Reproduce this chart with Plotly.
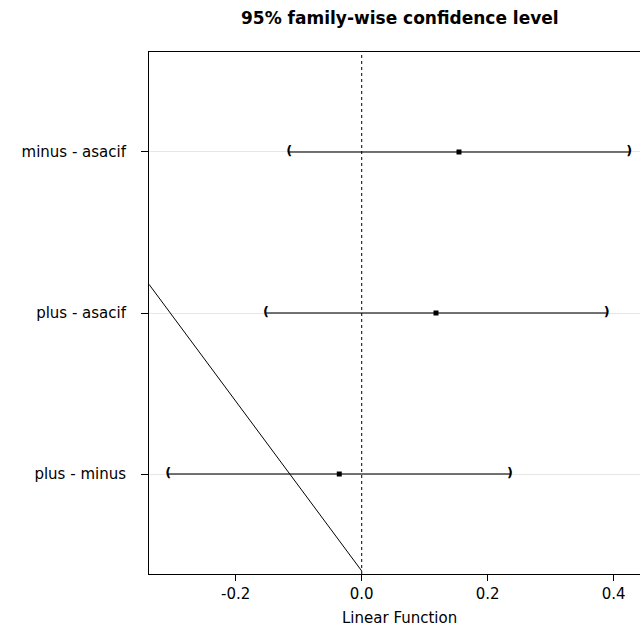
import plotly.graph_objects as go

# Data
contrasts = ["plus - minus", "plus - asacif", "minus - asacif"]
positions = [1, 2, 3]
estimates = [-0.0356, 0.1179, 0.1544]
lower = [-0.3071, -0.1518, -0.1149]
upper = [0.2354, 0.3889, 0.4248]
diag_x = [-0.3376, 0.0]
diag_y = [2.178, 0.398]
x_ticks = [-0.2, 0.0, 0.2, 0.4]
x_ticklabels = ["-0.2", "0.0", "0.2", "0.4"]

FONT = "DejaVu Sans"

fig = go.Figure()

# CI segments
for lo, hi, p in zip(lower, upper, positions):
    fig.add_trace(go.Scatter(x=[lo, hi], y=[p, p], mode="lines",
                             line=dict(color="#444444", width=1.6),
                             showlegend=False, hoverinfo="skip"))

# brackets
fig.add_trace(go.Scatter(x=lower, y=positions, mode="text", text=["<b>(</b>"] * 3,
                         textfont=dict(family=FONT, size=13, color="black"),
                         textposition="middle center", showlegend=False, hoverinfo="skip"))
fig.add_trace(go.Scatter(x=upper, y=positions, mode="text", text=["<b>)</b>"] * 3,
                         textfont=dict(family=FONT, size=13, color="black"),
                         textposition="middle center", showlegend=False, hoverinfo="skip"))

# estimates
fig.add_trace(go.Scatter(x=estimates, y=positions, mode="markers",
                         marker=dict(symbol="square", size=5, color="black"),
                         showlegend=False, hoverinfo="skip"))

# diagonal line
fig.add_trace(go.Scatter(x=diag_x, y=diag_y, mode="lines",
                         line=dict(color="black", width=1),
                         showlegend=False, hoverinfo="skip"))

# reference line at zero
fig.add_shape(type="line", x0=0, x1=0, y0=0, y1=1, xref="x", yref="paper",
              line=dict(color="black", width=1, dash="3px,3px"))

fig.update_layout(
    width=640, height=628,
    margin=dict(l=149, r=0, t=52, b=54),
    plot_bgcolor="white", paper_bgcolor="white",
    font=dict(family=FONT, size=15, color="black"),
    xaxis=dict(range=[-0.3376, 0.4417], tickvals=x_ticks, ticktext=x_ticklabels,
               showgrid=False, zeroline=False, showline=True, linecolor="black",
               linewidth=1, mirror=True, ticks="outside", ticklen=6,
               tickcolor="black", tickfont=dict(family=FONT, size=15),
               ticklabelstandoff=0),
    yaxis=dict(range=[0.379, 3.621], tickvals=positions, ticktext=contrasts,
               showgrid=True, gridcolor="#e6e6e6", gridwidth=1, zeroline=False,
               showline=True, linecolor="black", linewidth=1, ticks="outside",
               ticklen=7, tickcolor="black", tickfont=dict(family=FONT, size=15),
               ticklabelstandoff=12),
    annotations=[
        dict(text="<b>95% family-wise confidence level</b>", xref="paper", yref="paper",
             x=0.511, y=1.065, xanchor="center", yanchor="middle", showarrow=False,
             font=dict(family=FONT, size=17, color="black")),
        dict(text="Linear Function", xref="paper", yref="paper",
             x=0.511, y=-0.084, xanchor="center", yanchor="middle", showarrow=False,
             font=dict(family=FONT, size=15, color="black")),
    ],
)

fig.write_html("out.html")
